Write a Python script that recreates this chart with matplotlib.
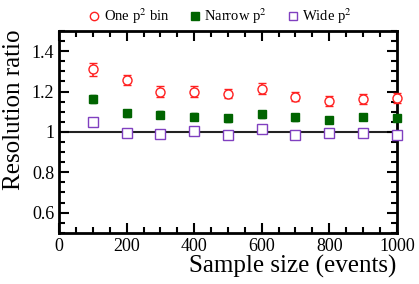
import numpy as np
import matplotlib
matplotlib.use('Agg')
import matplotlib.pyplot as plt
from matplotlib.ticker import MultipleLocator
from matplotlib.lines import Line2D

plt.rcParams['font.family'] = ['Liberation Serif', 'DejaVu Serif']
plt.rcParams['mathtext.fontset'] = 'stix'

# data
sample_size = [100, 200, 300, 400, 500, 600, 700, 800, 900, 1000]
one_bin = [1.31, 1.255, 1.20, 1.20, 1.19, 1.215, 1.175, 1.153, 1.163, 1.168]
one_bin_err = [0.032, 0.025, 0.025, 0.025, 0.024, 0.025, 0.024, 0.023, 0.023, 0.023]
narrow = [1.162, 1.092, 1.086, 1.076, 1.068, 1.087, 1.073, 1.060, 1.073, 1.068]
narrow_err = [0.02, 0.018, 0.018, 0.017, 0.017, 0.017, 0.017, 0.016, 0.016, 0.016]
wide = [1.05, 0.997, 0.992, 1.003, 0.987, 1.012, 0.984, 0.994, 0.994, 0.987]
wide_err = [0.012, 0.011, 0.011, 0.011, 0.011, 0.011, 0.011, 0.011, 0.011, 0.011]

red = '#ff2020'
green = '#006400'
purple = '#8040c0'

fig = plt.figure(figsize=(4.19, 2.84), dpi=100)
ax = fig.add_axes([0.141, 0.18, 0.806, 0.711])

ax.axhline(1.0, color='#222222', lw=1.5, zorder=1)

ax.errorbar(sample_size, one_bin, yerr=one_bin_err, fmt='o', color=red,
            mfc='white', mec=red, ms=6.5, mew=1.0, capsize=3, elinewidth=1.2,
            capthick=1.2, zorder=3, clip_on=False)
ax.errorbar(sample_size, narrow, yerr=narrow_err, fmt='s', color=green,
            mfc=green, mec=green, ms=6, capsize=2, elinewidth=1.2,
            zorder=3, clip_on=False)
ax.errorbar(sample_size, wide, yerr=wide_err, fmt='s', color=purple,
            mfc='white', mec=purple, ms=6.5, mew=1.0, capsize=2, elinewidth=1.2,
            zorder=3, clip_on=False)

ax.set_xlim(0, 1000)
ax.set_ylim(0.5, 1.5)
ax.xaxis.set_major_locator(MultipleLocator(200))
ax.xaxis.set_minor_locator(MultipleLocator(50))
ax.yaxis.set_minor_locator(MultipleLocator(0.05))
ax.set_yticks([0.6, 0.8, 1.0, 1.2, 1.4])
ax.set_yticklabels(['0.6', '0.8', '1', '1.2', '1.4'])
ax.tick_params(which='both', direction='in', top=True, right=True, width=1.5,
               labelsize=13)
ax.tick_params(which='major', length=7)
ax.tick_params(which='minor', length=4)
for s in ax.spines.values():
    s.set_linewidth(2)

ax.set_ylabel('Resolution ratio', fontsize=18)
ax.yaxis.set_label_coords(-0.1, 0.609)
fig.text(0.947, 0.022, 'Sample size (events)', fontsize=18, ha='right', va='bottom')

handles = [
    Line2D([], [], ls='none', marker='o', ms=6, mfc='white', mec=red, mew=1.0),
    Line2D([], [], ls='none', marker='s', ms=5.5, mfc=green, mec=green),
    Line2D([], [], ls='none', marker='s', ms=5.5, mfc='white', mec=purple, mew=1.0),
]
labels = ['One p$^2$ bin', 'Narrow p$^2$', 'Wide p$^2$']
ax.legend(handles, labels, loc='center', bbox_to_anchor=(0.476, 1.074), ncol=3,
          frameon=False, fontsize=10.5, handletextpad=0.2, columnspacing=1.3,
          borderaxespad=0, borderpad=0, handlelength=0.9)

fig.savefig('out.png', dpi=100)
